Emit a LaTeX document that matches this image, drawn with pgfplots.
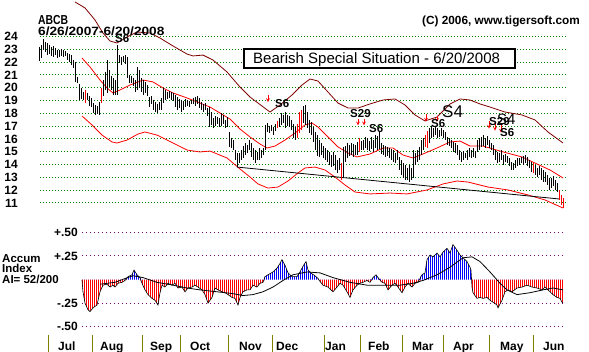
\documentclass[border=0pt]{standalone}
\usepackage{pgfplots}
\pgfplotsset{compat=1.18}
\usepackage{pgfplotstable}
\usepackage{fontspec}
\setmainfont{Liberation Sans}
\usetikzlibrary{patterns.meta}
\definecolor{maroonc}{RGB}{128,0,0}
\definecolor{gridg}{RGB}{0,128,0}
\definecolor{olivec}{RGB}{128,128,0}
\definecolor{purp}{RGB}{128,0,128}
\newcommand{\fs}[1]{\fontsize{#1}{#1}\selectfont}

\pgfplotstableread{
x h l
39 23.18 22.09
41 23.34 22.32
43 23.80 22.95
45 23.57 22.79
47 23.49 22.55
49 23.34 22.63
51 23.18 22.48
53 23.26 22.40
55 23.10 22.55
57 22.95 22.32
59 22.95 22.40
61 23.02 22.48
63 22.95 22.40
65 22.87 22.48
67 22.71 22.16
69 22.63 22.01
71 22.55 21.77
73 22.16 21.54
75 22.01 20.45
77 20.84 20.37
79 20.29 19.04
81 19.98 19.12
83 19.66 19.04
87 19.59 19.04
89 19.35 18.57
91 19.20 18.49
93 18.80 18.02
95 18.65 17.87
97 18.57 17.95
99 18.88 17.87
103 20.60 19.35
105 21.23 19.82
107 22.16 19.59
109 21.38 20.05
111 20.91 19.82
113 20.76 19.43
115 20.60 19.43
117 23.34 19.43
119 22.55 21.93
121 22.40 21.77
123 22.48 22.01
125 22.55 21.85
127 22.40 20.76
129 20.99 20.37
131 20.91 20.37
133 20.76 20.13
135 20.60 19.66
137 21.62 19.82
139 21.38 19.98
141 20.76 19.66
143 20.60 19.43
145 20.45 19.59
147 20.21 19.35
149 19.27 18.49
151 19.35 18.73
153 19.04 18.26
155 18.88 18.10
157 18.73 18.02
159 18.88 18.26
161 19.20 18.26
163 19.98 18.80
165 19.82 19.04
167 19.66 19.12
169 19.74 19.20
171 19.66 19.04
173 19.59 18.96
175 19.43 18.49
177 19.27 18.26
179 19.12 18.41
181 19.04 18.10
183 18.96 18.26
185 19.12 18.49
187 19.04 18.57
189 18.96 18.49
191 19.04 18.73
193 19.20 18.73
195 19.27 18.57
197 19.35 18.73
199 19.20 18.41
201 18.88 18.26
203 18.73 18.10
205 18.80 18.26
207 18.41 17.79
209 18.49 16.93
211 18.10 17.09
213 17.63 16.85
215 17.79 17.01
217 17.71 17.16
219 17.63 16.93
221 18.02 17.01
223 17.87 17.16
225 17.48 16.85
227 17.71 16.93
229 16.54 15.37
231 16.07 15.29
233 15.91 15.13
235 15.13 14.35
237 14.90 13.80
239 14.90 14.12
241 15.13 14.35
243 15.44 14.51
245 15.68 14.74
247 15.52 14.90
249 15.91 15.13
251 15.68 14.59
253 15.29 14.35
255 15.13 14.12
257 14.98 14.35
259 15.29 14.35
261 15.13 14.51
263 15.29 14.74
265 17.09 15.13
267 17.24 16.54
269 17.01 16.46
271 17.09 16.62
273 16.93 16.30
275 17.16 16.62
279 17.63 16.93
281 18.02 17.09
283 17.87 17.24
285 18.10 16.85
287 17.87 17.01
289 17.79 16.93
291 17.48 16.70
293 17.16 16.07
295 16.93 15.91
303 18.57 17.24
305 18.65 17.09
307 18.10 16.85
309 17.48 16.46
311 17.32 16.30
313 16.93 15.76
315 16.54 15.13
317 16.30 14.66
319 15.91 14.59
321 15.68 14.74
323 15.44 14.51
325 15.29 14.35
327 15.13 14.20
329 14.98 13.96
331 14.74 13.80
333 14.98 13.88
335 14.74 13.57
337 14.35 13.34
339 14.51 13.57
343 15.37 13.02
345 15.44 14.20
347 15.68 14.51
349 15.52 14.66
351 15.68 14.74
353 15.60 14.59
355 15.52 14.74
357 15.76 14.74
361 15.83 15.13
363 15.91 15.13
365 16.15 15.29
367 16.07 15.13
369 15.83 15.05
371 16.15 15.21
373 15.91 14.98
375 16.30 15.29
377 16.23 15.13
379 16.62 15.21
381 15.68 14.82
383 15.52 14.74
385 15.44 14.59
387 15.37 14.66
389 15.29 14.51
391 15.21 14.35
393 15.13 14.20
395 14.90 14.12
397 15.13 14.35
399 14.59 13.57
401 14.35 13.18
403 14.12 12.95
405 13.96 12.79
407 13.73 12.79
409 13.96 12.63
411 13.73 12.79
413 15.13 12.95
415 14.90 13.96
417 15.13 14.20
419 15.37 14.35
421 15.91 14.74
423 16.07 15.13
429 16.85 15.68
431 17.01 16.07
433 16.85 16.15
435 17.01 16.30
437 16.85 16.07
439 16.70 16.15
441 16.85 16.23
443 16.70 16.07
445 16.54 15.91
447 16.15 15.52
449 16.07 15.44
451 15.91 15.29
453 15.76 14.98
455 15.68 14.90
457 15.52 14.74
459 15.13 14.35
461 14.98 14.20
463 15.05 14.35
465 14.90 14.51
467 15.13 14.35
469 15.29 14.59
471 15.13 14.51
473 15.29 14.59
475 15.05 14.51
477 15.91 14.98
479 16.07 15.13
481 16.15 15.37
483 16.30 15.44
485 16.07 15.29
487 16.23 15.52
489 15.91 15.29
491 15.68 15.13
493 15.52 14.74
495 15.13 14.35
497 14.98 14.12
499 14.90 14.20
501 15.13 14.35
503 14.74 13.96
505 14.82 14.20
507 14.66 14.12
509 14.51 13.88
511 14.20 13.57
513 14.12 13.57
515 14.35 13.73
517 14.51 13.88
519 14.51 13.96
521 14.59 14.12
523 14.66 13.96
525 14.74 14.12
527 14.59 13.88
529 14.35 13.73
531 14.20 13.41
535 13.96 13.18
537 13.73 13.02
539 13.88 13.18
541 13.73 12.79
543 13.57 12.63
545 13.41 12.63
547 13.18 12.40
549 12.95 12.01
551 12.95 12.16
553 13.10 12.32
555 12.79 12.01
557 12.55 11.85
}\blackbars

\pgfplotstableread{
x h l
85 19.82 18.80
101 19.98 18.80
277 17.40 16.85
297 17.16 16.07
299 18.10 16.46
301 18.26 16.70
341 14.12 12.79
359 16.07 14.98
425 16.30 15.37
427 16.62 15.29
533 14.12 13.34
559 12.01 11.23
561 11.62 10.84
563 11.38 10.60
}\redbars

\pgfplotstableread{
x v
82 -0.005
83 -0.13
85 -0.25
88 -0.32
90 -0.34
93 -0.30
97 -0.27
100 -0.13
103 -0.06
107 -0.05
110 -0.08
113 -0.06
115 -0.08
118 -0.04
122 -0.03
125 -0.01
128 0.03
132 0.05
134 0.10
137 0.05
140 0.02
142 -0.04
145 -0.11
148 -0.16
152 -0.20
155 -0.22
158 -0.27
160 -0.14
162 -0.06
165 -0.08
168 -0.04
172 -0.06
175 -0.04
178 -0.09
182 -0.08
185 -0.13
188 -0.09
192 -0.08
195 -0.06
198 -0.08
202 -0.11
205 -0.16
208 -0.25
212 -0.19
215 -0.09
218 -0.11
222 -0.13
225 -0.14
228 -0.16
232 -0.19
235 -0.20
238 -0.27
240 -0.19
243 -0.13
247 -0.11
250 -0.11
253 -0.06
257 -0.08
260 -0.04
263 -0.03
265 0.03
268 0.05
273 0.08
277 0.12
280 0.17
282 0.21
285 0.15
288 0.07
292 0.03
297 0.03
300 0.08
303 0.14
306 0.19
308 0.10
312 0.06
315 0.04
318 0.01
320 -0.02
323 -0.06
328 -0.08
333 -0.13
337 -0.08
340 -0.04
343 -0.06
347 -0.13
350 -0.19
353 -0.11
357 -0.06
360 -0.04
363 -0.03
367 -0.01
370 -0.03
373 0.02
376 0.05
378 0.02
382 -0.03
385 -0.04
388 -0.11
392 -0.06
395 -0.04
398 -0.08
402 -0.14
405 -0.08
408 -0.04
412 -0.08
415 -0.04
418 -0.03
422 0.05
425 0.07
427 0.21
430 0.26
433 0.24
437 0.28
440 0.24
443 0.29
447 0.33
450 0.28
453 0.37
457 0.31
460 0.26
463 0.23
467 0.19
470 0.13
471 0.10
472 -0.08
473 -0.14
477 -0.20
480 -0.19
483 -0.20
487 -0.19
490 -0.22
493 -0.24
497 -0.27
498 -0.30
502 -0.22
505 -0.13
508 -0.11
512 -0.13
517 -0.09
522 -0.08
527 -0.06
532 -0.08
537 -0.09
542 -0.11
545 -0.08
548 -0.11
553 -0.16
557 -0.19
560 -0.20
562 -0.24
563 -0.25
}\ai

\pgfplotstableread{
x v
100 -0.05
115 -0.03
125 0.01
133 0.04
143 0.02
157 -0.03
173 -0.06
187 -0.09
200 -0.11
217 -0.13
233 -0.15
243 -0.17
253 -0.16
263 -0.13
273 -0.08
283 -0.01
293 0.05
307 0.08
320 0.07
333 0.02
350 -0.03
367 -0.06
383 -0.06
400 -0.06
413 -0.04
423 -0.01
437 0.05
450 0.13
463 0.23
472 0.24
480 0.19
490 0.08
500 -0.04
507 -0.11
517 -0.16
530 -0.14
543 -0.11
553 -0.09
563 -0.11
}\aima

\begin{document}
\begin{tikzpicture}[x=1pt,y=1pt]
\useasboundingbox (0,0) rectangle (589,-352);
\fill[white] (0,0) rectangle (589,-352);

\begin{axis}[
  at={(40pt,0pt)}, anchor=north west, scale only axis,
  width=527pt, height=215pt,
  xmin=40, xmax=567, ymin=10.055, ymax=26.852,
  axis line style={draw=none}, xtick=\empty, ytick={11,...,24},
  major tick length=0pt,
  ymajorgrids, grid style={draw=gridg, dash pattern=on 1pt off 2pt, line width=0.9pt},
  /pgf/number format/assume math mode=true,
  yticklabel style={anchor=east, inner sep=0pt, xshift=-22pt, font=\fs{12}\bfseries},
  clip=false,
]
% bands
\addplot[maroonc, line width=0.8pt] coordinates {
(75,26.70) (85,26.23) (95,25.29) (103,24.27) (110,23.65) (117,23.49) (127,23.96)
(137,24.35) (150,24.27) (160,23.88) (173,23.26) (187,22.63) (193,22.48) (203,22.55)
(213,22.16) (227,21.23) (240,20.05) (250,19.27) (262,18.57) (270,18.10) (280,18.65)
(292,19.43) (302,20.21) (310,20.68) (318,20.52) (328,19.66) (338,18.80) (348,18.41)
(358,18.41) (370,18.73) (383,19.04) (395,19.12) (405,18.65) (415,17.87) (425,17.40)
(437,17.71) (450,18.73) (460,19.12) (470,19.04) (480,18.73) (490,18.49) (505,18.10)
(522,17.87) (535,17.48) (548,16.54) (563,15.68)};
\addplot[red, line width=0.8pt] coordinates {
(82,22.32) (90,21.62) (100,20.60) (107,19.98) (113,19.59) (120,19.82) (130,20.21)
(143,20.60) (153,20.45) (163,19.98) (173,19.59) (187,19.20) (200,18.80) (210,18.49)
(220,18.02) (230,17.55) (240,16.77) (250,16.15) (260,15.60) (267,15.29) (275,15.44)
(285,15.91) (295,16.46) (305,17.09) (312,17.24) (318,16.93) (328,16.15) (338,15.37)
(348,14.90) (357,14.59) (370,14.82) (383,15.29) (393,15.29) (403,14.74) (413,14.51)
(423,14.82) (437,15.29) (450,15.76) (460,15.83) (470,15.44) (483,15.44) (493,15.21)
(507,14.90) (522,14.59) (537,14.04) (550,13.57) (563,12.95)};
\addplot[red, line width=0.8pt] coordinates {
(82,17.79) (92,17.09) (102,16.30) (112,15.76) (117,15.68) (127,15.91) (138,16.38)
(145,16.54) (157,16.30) (173,15.68) (187,15.13) (200,14.98) (210,15.05) (227,14.51)
(240,13.65) (250,13.02) (258,12.48) (268,12.16) (278,12.24) (288,12.71) (298,13.34)
(305,13.73) (315,13.80) (325,13.57) (335,13.02) (345,12.40) (355,11.85) (370,11.70)
(390,11.77) (407,11.70) (427,12.01) (443,12.48) (457,12.71) (468,12.63) (488,12.24)
(508,12.01) (528,11.62) (545,11.23) (563,10.60)};
% trend line
\addplot[black, line width=0.8pt] coordinates {(237,13.80) (560,11.30)};
% price bars
\addplot[draw=none, mark=none, forget plot,
  error bars/.cd, y dir=minus, y explicit, error mark=none,
  error bar style={draw=black, line width=1pt}]
  table[x=x, y=h, y error expr=\thisrow{h}-\thisrow{l}] {\blackbars};
\addplot[draw=none, mark=none, forget plot,
  error bars/.cd, y dir=minus, y explicit, error mark=none,
  error bar style={draw=red, line width=1pt}]
  table[x=x, y=h, y error expr=\thisrow{h}-\thisrow{l}] {\redbars};
% signal arrows
\addplot[red, line width=0.7pt, -stealth, quiver={u=0, v=\thisrow{v}}]
  table[x=x, y=y] {
x y v
268 19.43 -0.55
358 17.56 -0.50
364 17.56 -0.50
426 17.95 -0.60
437 17.80 -0.47
489 17.40 -0.60
495 17.24 -0.60
501 17.09 -0.60
};
\end{axis}

\begin{axis}[
  at={(40pt,-222pt)}, anchor=north west, scale only axis,
  width=527pt, height=113pt,
  xmin=40, xmax=567, ymin=-0.5879, ymax=0.6091,
  axis line style={draw=none}, xtick=\empty,
  ytick={-0.5,-0.25,0.25,0.5}, yticklabels={-.50,-.25,+.25,+.50},
  major tick length=0pt,
  yticklabel style={anchor=east, inner sep=0pt, xshift=38pt, font=\fs{12}\bfseries},
  clip=false,
]
\draw[purp, dash pattern=on 1pt off 3pt, line width=0.9pt] (axis cs:82,0.5) -- (axis cs:565,0.5);
\draw[purp, dash pattern=on 1pt off 3pt, line width=0.9pt] (axis cs:82,0.25) -- (axis cs:565,0.25);
\draw[purp, dash pattern=on 1pt off 3pt, line width=0.9pt] (axis cs:82,-0.25) -- (axis cs:565,-0.25);
\draw[purp, dash pattern=on 1pt off 3pt, line width=0.9pt] (axis cs:82,-0.5) -- (axis cs:565,-0.5);
\addplot[draw=none, pattern={Lines[angle=90,distance=2pt,line width=1pt]}, pattern color=red,
  y filter/.expression={min(y,0)}] table[x=x,y=v] {\ai} \closedcycle;
\addplot[draw=none, pattern={Lines[angle=90,distance=2pt,line width=1pt]}, pattern color=blue,
  y filter/.expression={max(y,0)}] table[x=x,y=v] {\ai} \closedcycle;
\addplot[black, line width=0.6pt] table[x=x,y=v] {\ai};
\addplot[black, line width=0.8pt] table[x=x,y=v] {\aima};
\end{axis}

% texts
\node[anchor=base west, inner sep=0pt, font=\fs{13}\bfseries] at (38,-25) {\scalebox{0.8}[1]{ABCB}};
\node[anchor=base west, inner sep=0pt, font=\fs{12}\bfseries] at (38,-35.5) {\scalebox{1.14}[1]{6/26/2007-6/20/2008}};
\node[anchor=base west, inner sep=0pt, font=\fs{11.8}\bfseries] at (422,-25) {(C) 2006, www.tigersoft.com};
\draw[black, line width=1.2pt, fill=white] (244,-49) rectangle (515,-68);
\node[anchor=base west, inner sep=0pt, font=\fs{15}] at (253,-63.5) {Bearish Special Situation - 6/20/2008};

\node[anchor=base west, inner sep=0pt, font=\fs{11.5}\bfseries] at (115,-43) {S6};
\node[anchor=base west, inner sep=0pt, font=\fs{11.5}\bfseries] at (275,-108) {S6};
\node[anchor=base west, inner sep=0pt, font=\fs{11.5}\bfseries] at (350,-118) {S29};
\node[anchor=base west, inner sep=0pt, font=\fs{11.5}\bfseries] at (369,-133) {S6};
\node[anchor=base west, inner sep=0pt, font=\fs{17}] at (442,-118) {S4};
\node[anchor=base west, inner sep=0pt, font=\fs{11.5}\bfseries] at (431,-128) {S6};
\node[anchor=base west, inner sep=0pt, font=\fs{11.5}\bfseries] at (489,-126) {S29};
\node[anchor=base west, inner sep=0pt, font=\fs{15}] at (497,-125) {S4};
\node[anchor=base west, inner sep=0pt, font=\fs{11.5}\bfseries] at (500,-137) {S6};

\node[anchor=base west, inner sep=0pt, font=\fs{11.5}\bfseries] at (2,-263) {Accum};
\node[anchor=base west, inner sep=0pt, font=\fs{11.5}\bfseries] at (2,-273) {Index};
\node[anchor=base west, inner sep=0pt, font=\fs{11.5}\bfseries] at (2,-284) {AI= 52/200};

\foreach \tx in {48,92,142,180,228,272,324,360,402,443,489,533}
  \draw[olivec, line width=1pt] (\tx,-335) -- (\tx,-352);
\foreach \lx/\lab in {58/Jul,100/Aug,150/Sep,190/Oct,239/Nov,276/Dec,325/Jan,368/Feb,412/Mar,453/Apr,500/May,543/Jun}
  \node[anchor=base west, inner sep=0pt, font=\fs{12}\bfseries] at (\lx,-351) {\lab};
\end{tikzpicture}
\end{document}
